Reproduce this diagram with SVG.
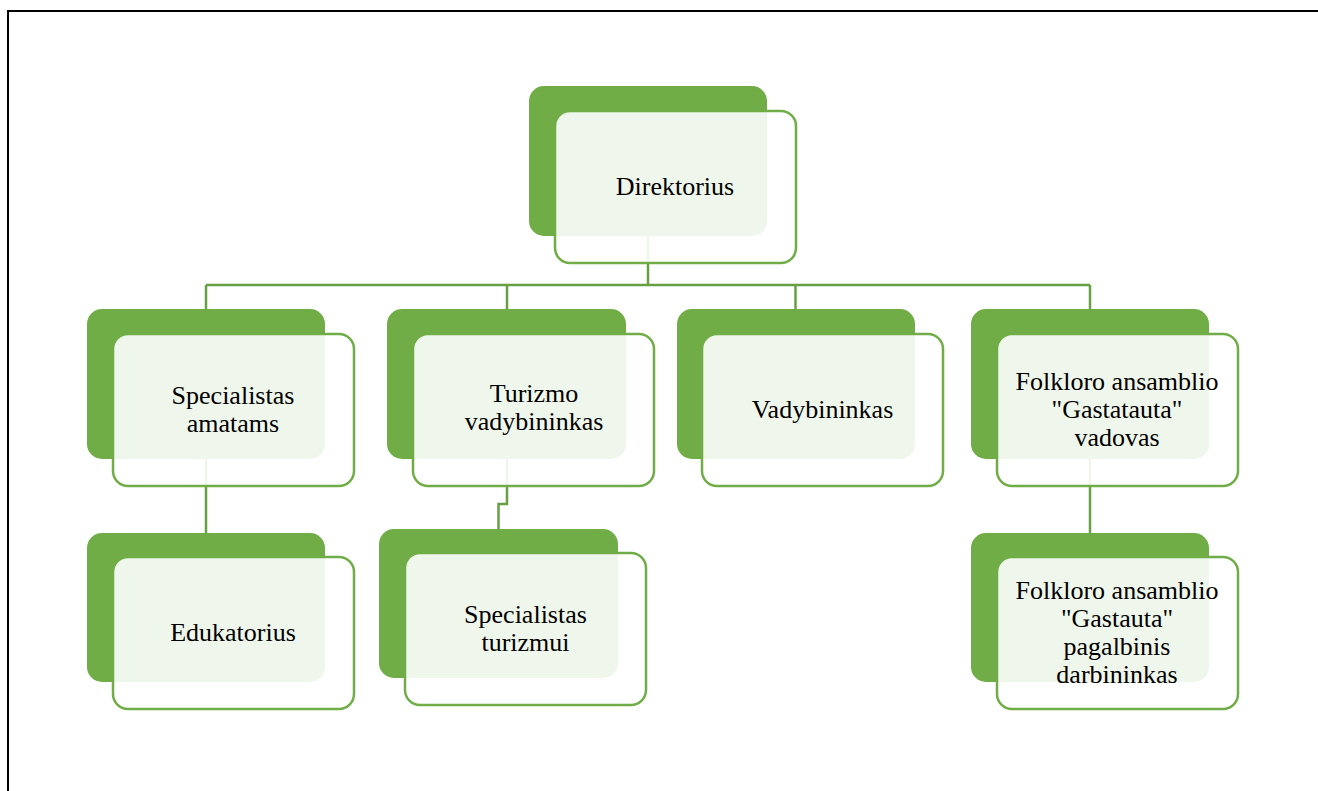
<svg xmlns="http://www.w3.org/2000/svg" width="1318" height="791" viewBox="0 0 1318 791">
<style>
.bg{fill:#70AD47}
.fg{fill:#ffffff;fill-opacity:0.89;stroke:#70AD47;stroke-width:2.5}
.cn{fill:none;stroke:#66A042;stroke-width:2.5}
.t{font-family:"Liberation Serif","Times New Roman",serif;font-size:26px;fill:#000;text-anchor:middle}
</style>
<rect x="0" y="0" width="1318" height="791" fill="#fff"/>
<path d="M8 791 V11 H1318" fill="none" stroke="#000" stroke-width="2"/>
<g id="connectors">
<path class="cn" d="M648 236 V285"/>
<path class="cn" d="M206 285 H1090"/>
<path class="cn" d="M206 285 V309"/>
<path class="cn" d="M507 285 V309"/>
<path class="cn" d="M795.5 285 V309"/>
<path class="cn" d="M1090 285 V309"/>
<path class="cn" d="M206 459 V533"/>
<path class="cn" d="M507 459 V504 H498.5 V529"/>
<path class="cn" d="M1090 459 V533"/>
</g>
<g id="direktorius">
<rect class="bg" x="529" y="86" width="238" height="150" rx="15"/>
<rect class="fg" x="555" y="111" width="241" height="152" rx="15"/>
<text class="t" x="675" y="195">Direktorius</text>
</g>
<g id="specialistas-amatams">
<rect class="bg" x="87" y="309" width="238" height="150" rx="15"/>
<rect class="fg" x="113" y="334" width="241" height="152" rx="15"/>
<text class="t" x="233" y="404">Specialistas</text>
<text class="t" x="233" y="432">amatams</text>
</g>
<g id="turizmo-vadybininkas">
<rect class="bg" x="387" y="309" width="239" height="150" rx="15"/>
<rect class="fg" x="413" y="334" width="241" height="152" rx="15"/>
<text class="t" x="534" y="402">Turizmo</text>
<text class="t" x="534" y="430">vadybininkas</text>
</g>
<g id="vadybininkas">
<rect class="bg" x="677" y="309" width="238" height="150" rx="15"/>
<rect class="fg" x="702" y="334" width="241" height="152" rx="15"/>
<text class="t" x="822.5" y="418">Vadybininkas</text>
</g>
<g id="folkloro-vadovas">
<rect class="bg" x="971" y="309" width="238" height="150" rx="15"/>
<rect class="fg" x="997" y="334" width="241" height="152" rx="15"/>
<text class="t" x="1117" y="390">Folkloro ansamblio</text>
<text class="t" x="1117" y="418">"Gastatauta"</text>
<text class="t" x="1117" y="446">vadovas</text>
</g>
<g id="edukatorius">
<rect class="bg" x="87" y="533" width="238" height="149" rx="15"/>
<rect class="fg" x="113" y="557" width="241" height="152" rx="15"/>
<text class="t" x="233" y="641">Edukatorius</text>
</g>
<g id="specialistas-turizmui">
<rect class="bg" x="379" y="529" width="239" height="149" rx="15"/>
<rect class="fg" x="405" y="553" width="241" height="152" rx="15"/>
<text class="t" x="525.5" y="623">Specialistas</text>
<text class="t" x="525.5" y="651">turizmui</text>
</g>
<g id="folkloro-pagalbinis">
<rect class="bg" x="971" y="533" width="238" height="149" rx="15"/>
<rect class="fg" x="997" y="557" width="241" height="152" rx="15"/>
<text class="t" x="1117" y="599">Folkloro ansamblio</text>
<text class="t" x="1117" y="627">"Gastauta"</text>
<text class="t" x="1117" y="655">pagalbinis</text>
<text class="t" x="1117" y="683">darbininkas</text>
</g>
</svg>
